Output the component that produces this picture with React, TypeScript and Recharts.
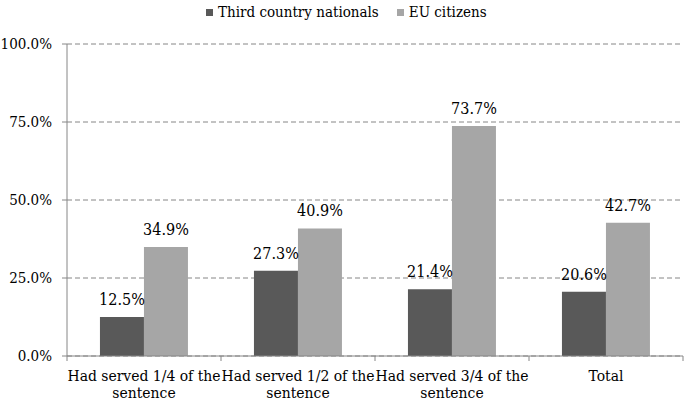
import React from "react";
import {
  Bar,
  BarChart,
  CartesianGrid,
  LabelList,
  Legend,
  XAxis,
  YAxis,
} from "recharts";

document.body.style.margin = "0";

const categories = [
  "Had served 1/4 of the\nsentence",
  "Had served 1/2 of the\nsentence",
  "Had served 3/4 of the\nsentence",
  "Total",
];
const seriesNames = ["Third country nationals", "EU citizens"];
const thirdCountry = [12.5, 27.3, 21.4, 20.6];
const euCitizens = [34.9, 40.9, 73.7, 42.7];
const yTicks = [0, 25, 50, 75, 100];

const data = categories.map((name, i) => ({
  name,
  tcn: thirdCountry[i],
  eu: euCitizens[i],
}));

const FONT = "DejaVu Serif Condensed";
const AXIS = "#868686";
const DARK = "#595959";
const LIGHT = "#A6A6A6";

const pct = (v: number) => `${Number(v).toFixed(1)}%`;

function CategoryTick(props: any) {
  const { x, y, payload, index } = props;
  const half = payload.offset || 0;
  const lines = String(payload.value).split("\n");
  return (
    <g>
      <line x1={x - half} x2={x - half} y1={y} y2={y + 5} stroke={AXIS} />
      {index === categories.length - 1 && (
        <line x1={x + half} x2={x + half} y1={y} y2={y + 5} stroke={AXIS} />
      )}
      <text
        x={x}
        y={y + 25}
        textAnchor="middle"
        fontFamily={FONT}
        fontSize={15.5}
        fill="#000"
      >
        {lines.map((l, i) => (
          <tspan key={i} x={x} dy={i === 0 ? 0 : 17}>
            {l}
          </tspan>
        ))}
      </text>
    </g>
  );
}

function LegendContent(props: any) {
  const payload = [...(props.payload || [])].sort(
    (a: any, b: any) => seriesNames.indexOf(a.value) - seriesNames.indexOf(b.value)
  );
  return (
    <div
      style={{
        display: "flex",
        height: 20,
        alignItems: "center",
        fontFamily: FONT,
        fontSize: 15,
        lineHeight: "15px",
      }}
    >
      {payload.map((p: any, i: number) => (
        <div
          key={i}
          style={{
            display: "flex",
            alignItems: "center",
            marginRight: 18,
          }}
        >
          <span
            style={{
              width: 7,
              height: 7,
              background: p.color,
              marginRight: 5,
              display: "inline-block",
            }}
          />
          <span style={{ color: "#000" }}>{p.value}</span>
        </div>
      ))}
    </div>
  );
}

export default function App() {
  return (
    <BarChart
      width={685}
      height={401}
      data={data}
      margin={{ top: 24, right: 2, bottom: 0, left: 0 }}
      barCategoryGap="21.4%"
      barGap={0}
      style={{ fontFamily: FONT }}
    >
      <CartesianGrid
        vertical={false}
        stroke={AXIS}
        strokeDasharray="5 3"
      />
      <XAxis
        dataKey="name"
        interval={0}
        tickLine={false}
        tickSize={0}
        tickMargin={0}
        stroke={AXIS}
        height={45}
        tick={<CategoryTick />}
      />
      <YAxis
        domain={[0, 100]}
        ticks={yTicks}
        width={67}
        tickSize={5}
        tickMargin={10}
        stroke={AXIS}
        tickFormatter={pct}
        tick={{ fill: "#000", fontFamily: FONT, fontSize: 15 }}
      />
      <Legend
        verticalAlign="top"
        content={<LegendContent />}
        wrapperStyle={{ left: 206, top: 2, width: "auto" }}
      />
      <Bar
        dataKey="tcn"
        name={seriesNames[0]}
        fill={DARK}
        isAnimationActive={false}
      >
        <LabelList
          dataKey="tcn"
          position="top"
          offset={12}
          formatter={pct}
          fill="#000"
          fontFamily={FONT}
          fontSize={16}
        />
      </Bar>
      <Bar
        dataKey="eu"
        name={seriesNames[1]}
        fill={LIGHT}
        isAnimationActive={false}
      >
        <LabelList
          dataKey="eu"
          position="top"
          offset={12}
          formatter={pct}
          fill="#000"
          fontFamily={FONT}
          fontSize={16}
        />
      </Bar>
    </BarChart>
  );
}
